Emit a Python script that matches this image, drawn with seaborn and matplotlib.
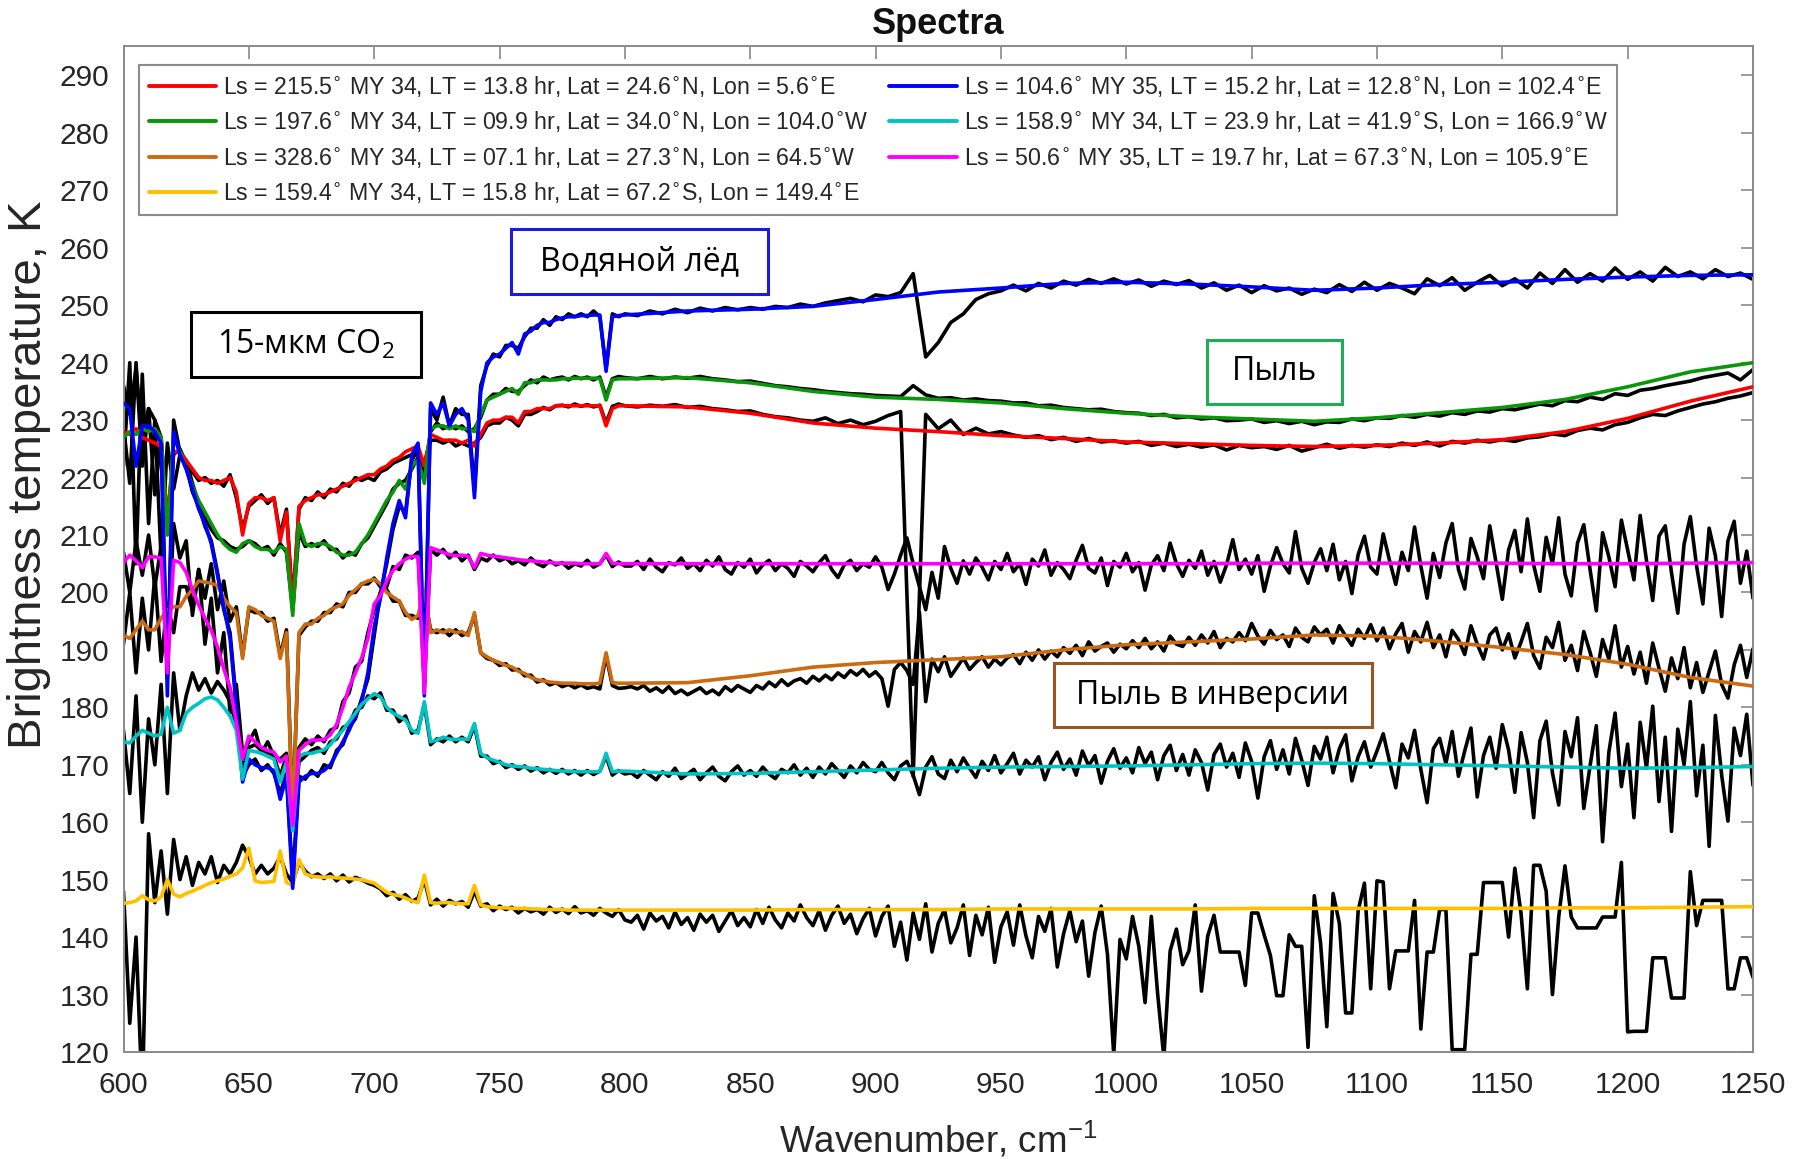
import numpy as np
import matplotlib
matplotlib.use("Agg")
import matplotlib.pyplot as plt
from matplotlib.lines import Line2D
from matplotlib.patches import Rectangle
import seaborn as sns

# ---------------- data ----------------
# wavenumber grids, cm^-1
wn_lo = np.arange(600.0, 800.01, 2.5)         # 81 points
wn_hi_obs = np.arange(805.0, 1250.01, 5.0)    # 90 points (smooth observed spectra)
wn_hi_fine = np.arange(802.5, 1250.01, 2.5)   # 180 points (noisy observed spectra)
wn_hi_fit = np.arange(825.0, 1250.01, 25.0)   # 18 points (model fits)

labels = [
    "Ls = 215.5$^{\\circ}$ MY 34, LT = 13.8 hr, Lat = 24.6$^{\\circ}$N, Lon = 5.6$^{\\circ}$E",
    "Ls = 197.6$^{\\circ}$ MY 34, LT = 09.9 hr, Lat = 34.0$^{\\circ}$N, Lon = 104.0$^{\\circ}$W",
    "Ls = 328.6$^{\\circ}$ MY 34, LT = 07.1 hr, Lat = 27.3$^{\\circ}$N, Lon = 64.5$^{\\circ}$W",
    "Ls = 159.4$^{\\circ}$ MY 34, LT = 15.8 hr, Lat = 67.2$^{\\circ}$S, Lon = 149.4$^{\\circ}$E",
    "Ls = 104.6$^{\\circ}$ MY 35, LT = 15.2 hr, Lat = 12.8$^{\\circ}$N, Lon = 102.4$^{\\circ}$E",
    "Ls = 158.9$^{\\circ}$ MY 34, LT = 23.9 hr, Lat = 41.9$^{\\circ}$S, Lon = 166.9$^{\\circ}$W",
    "Ls = 50.6$^{\\circ}$ MY 35, LT = 19.7 hr, Lat = 67.3$^{\\circ}$N, Lon = 105.9$^{\\circ}$E",
]
colors = ["#ff0000", "#0a960a", "#cc6a10", "#ffc000", "#0000ff", "#00c4c4", "#ff00ff"]

# ---- model fits (colored) ----
fit_red = [
    228, 227.5, 228.5, 227, 226.5, 226, 225.5, 213, 224.5, 224.5,
    223, 221.5, 220, 219.5, 219.5, 219, 219.5, 220, 217.5, 210,
    215.5, 216.5, 216.5, 216, 216.5, 209, 214, 197, 215, 216,
    216.5, 217, 217, 217.5, 218, 218.5, 219, 219.5, 220, 220.5,
    220.5, 221.5, 222, 223, 223.5, 224.5, 225, 225.5, 222, 227.5,
    227, 226.5, 226.5, 226.5, 226, 226.5, 225.5, 227.5, 229.5, 230,
    230, 230.5, 230.5, 229.5, 231.5, 231.5, 232, 232, 232, 232.5,
    232.5, 232.5, 232.5, 232.5, 232.5, 232.5, 232.5, 229, 232, 232.5,
    232.5,
    232.3, 231.2, 229.5, 228.6, 228, 227.3, 226.8, 226.2, 225.9, 225.6,
    225.4, 225.6, 226, 226.6, 228, 230.3, 233.3, 235.8]
fit_green = [
    227, 228, 227.5, 228.5, 228, 228.5, 227, 210, 227, 224.5,
    221.5, 218.5, 216, 214, 212, 210, 208.5, 207.5, 207, 208.5,
    209, 208, 207.5, 207.5, 207, 208, 207.5, 196, 212, 208.5,
    208, 208.5, 208.5, 208, 207, 206.5, 206.5, 207, 208.5, 210,
    212, 214, 216, 217.5, 219.5, 218, 222, 223, 219, 228.5,
    229, 229, 228.5, 229, 228.5, 228.5, 228, 231, 233.5, 234,
    234.5, 235, 235.5, 234.5, 236.5, 236.5, 237, 237, 237, 237,
    237.2, 237.2, 237.3, 237.3, 237.3, 237.3, 237.3, 233.5, 237, 237.2,
    237.2,
    237.4, 236.5, 235, 234, 233.6, 233, 232, 231.2, 230.6, 230.2,
    229.8, 230.4, 231.3, 232.2, 233.6, 235.8, 238.4, 240]
fit_orange = [
    192.5, 192, 193.5, 195, 193.5, 193.5, 195.5, 197, 197.5, 197.5,
    199.3, 200.5, 202, 201.8, 201.6, 201.2, 199, 197.5, 196.5, 188.5,
    197.5, 197, 196, 195.5, 195, 188.5, 193, 160, 193, 194.5,
    194.5, 195.5, 196, 197, 197.5, 198, 199.5, 200.5, 201.5, 202,
    202.3, 201.5, 200, 199.2, 198.5, 196.5, 195.3, 196, 200.4, 193,
    193.5, 193, 193.5, 193, 193.2, 192.5, 196.5, 189.5, 188.8, 188.2,
    187.8, 187.3, 187, 186.3, 185.9, 185.2, 184.8, 184.6, 184.4, 184.3,
    184.2, 184.2, 184.2, 184.1, 184.1, 184.1, 184.2, 189.5, 184.3, 184.2,
    184.2,
    184.3, 185.5, 187, 187.8, 188.3, 188.8, 190, 190.9, 191.4, 191.9,
    192.6, 192.4, 191.5, 190.4, 189.2, 187.5, 185.2, 183.7]
fit_yellow = [
    145.9, 146, 146.3, 147.2, 146.5, 146.3, 147, 150, 147.5, 147,
    147.6, 148, 148.5, 149, 149.5, 149.8, 150.1, 150.6, 151, 152,
    155.5, 149.8, 149.5, 149.6, 149.7, 155, 149.5, 149, 153.5, 151,
    150.6, 150.5, 150.4, 150.5, 150.3, 150.3, 150.2, 150.1, 150, 149.7,
    149.4, 148.6, 147.8, 147.4, 147.2, 146.8, 146.3, 146, 150.8, 146,
    145.9, 146, 146, 145.9, 145.8, 145.8, 149, 145.6, 145.3, 145.2,
    145.1, 145.1, 145, 145, 145, 144.9, 144.9, 144.8, 144.8, 144.8,
    144.8, 144.7, 144.7, 144.7, 144.7, 144.7, 144.7, 144.7, 144.7, 144.7,
    144.7,
    144.7, 144.7, 144.8, 144.8, 144.8, 144.9, 144.9, 144.9, 144.9, 145,
    145, 145, 145, 145, 145.1, 145.1, 145.2, 145.3]
fit_blue = [
    233, 232, 222, 229, 229, 228, 226, 182, 228, 224,
    221.5, 218, 214.5, 212, 208.5, 203, 197.5, 192, 180, 167,
    171, 170, 169.5, 169.5, 169, 164, 168, 148.5, 167, 168,
    168.5, 168.5, 169, 170, 172, 174, 176, 178.5, 181, 186,
    194, 199, 206, 212, 216, 213, 224, 226, 182, 233,
    231, 233, 229, 231, 232, 230, 216.5, 235, 240, 241,
    241.5, 242.5, 243.5, 241.5, 245, 245.5, 246.5, 247, 247, 247.5,
    247.8, 248, 248, 248.2, 248.2, 248.3, 248.3, 238.5, 248, 248.2,
    248.3,
    249, 249.3, 249.8, 251, 252.3, 253, 253.8, 254, 253.7, 253.2,
    252.6, 253, 253.6, 254, 254.5, 254.9, 255.2, 255.3]
fit_cyan = [
    174, 173.8, 175, 176, 175.5, 175, 175.3, 180, 175.5, 176,
    179, 180, 180.7, 181.5, 181.8, 181.3, 180, 178.5, 176, 167.5,
    172.5, 172.3, 172, 171.5, 171, 167, 170.5, 158.5, 171.5, 172,
    172, 172.3, 172.6, 173.5, 174.9, 176, 177.5, 179, 180.5, 181.5,
    182.4, 181.8, 180, 179, 178.4, 177.8, 176, 175.5, 181, 174,
    174.3, 174.8, 174.5, 174.4, 174.5, 174.4, 177.2, 172, 171.2, 170.8,
    170.4, 170, 169.8, 169.7, 169.6, 169.4, 169.3, 169.2, 169.1, 169,
    168.9, 168.9, 168.8, 168.8, 168.8, 168.8, 168.8, 172, 168.8, 168.9,
    168.9,
    168.4, 168.5, 168.8, 169.1, 169.4, 169.6, 169.7, 169.8, 170, 170.2,
    170.3, 170.2, 170, 169.8, 169.6, 169.4, 169.5, 169.7]
fit_magenta = [
    205.2, 206.5, 205.5, 204.3, 206.2, 206.2, 206, 186, 205.6, 205.2,
    203.5, 200.5, 197.8, 195.5, 193.4, 190.5, 186.7, 183.5, 177.5, 171,
    175, 174, 173, 172.5, 172.2, 170.5, 171.5, 159.5, 172.5, 173.5,
    174.3, 174.3, 174.4, 175.2, 177, 180, 183.5, 186, 188.6, 192,
    198, 199.5, 202, 203.8, 205, 205.8, 206.3, 206.2, 182.5, 207.8,
    207.4, 207, 206.6, 206.4, 206.5, 206.3, 204.3, 206.8, 206.5, 206.3,
    206.2, 206, 205.9, 205.7, 205.6, 205.5, 205.4, 205.3, 205.2, 205.1,
    205.1, 205.1, 205.1, 205, 205, 205, 205, 206.8, 205.1, 205,
    205,
    205, 205, 205, 205, 205, 205, 205, 205, 205, 205.1,
    205.1, 205.1, 205.1, 205.1, 205, 205, 205.1, 205.2]

# ---- observed spectra (black) ----
# 81 values on wn_lo followed by 90 values on wn_hi_obs
obs_red = [
    229, 219, 240, 222, 232, 217, 227, 212, 224, 225,
    222.5, 221, 219.5, 220, 219, 219.5, 218.5, 220.5, 216.5, 211,
    215, 216, 217, 215.5, 216.5, 210, 214.5, 198, 214.5, 216.5,
    216, 217.5, 216.5, 218, 217.5, 219, 218.5, 220, 219.5, 220,
    219.5, 221, 221.5, 222.5, 223, 223.5, 224, 224.5, 222.5, 226.5,
    226.5, 226, 226.5, 225.5, 226, 225.5, 226, 227, 229, 229.5,
    229.5, 230.5, 230, 229, 231, 231, 231.5, 232.2, 231.8, 232.5,
    232.6, 232.3, 232.8, 232.4, 232.7, 232.3, 232.6, 229.5, 232.4, 232.8,
    232.5,
    232.3, 232.6, 232.4, 232.7, 232.2, 232.4, 232, 231.8, 231.5, 231.6,
    231, 230.6, 230.4, 230, 229.8, 230.4, 229.4, 230, 229.2, 229.8,
    230.8, 231.5, 168, 231, 228.5, 230, 227.5, 228.6, 227.6, 228,
    227.4, 227, 227.3, 226.6, 227, 226.3, 226.8, 226.2, 226.4, 226,
    226.3, 225.6, 226, 225.4, 225.8, 225.3, 225.7, 224.8, 225.6, 225.2,
    225.4, 224.9, 225.6, 224.6, 225.2, 225.8, 225.1, 225.6, 225.3, 225.7,
    225.4, 226, 225.6, 226.2, 225.5, 226.3, 226, 226.5, 226.2, 226.6,
    226.3, 226.9, 227.1, 227.6, 227.3, 228.2, 228.6, 228.3, 229.2, 229.6,
    230.4, 231, 230.8, 231.6, 232.2, 232.8, 233.2, 233.8, 234.2, 234.8]
obs_green = [
    222, 240, 205, 238, 212, 230, 206, 226, 218, 224,
    223, 219, 215.5, 213, 211, 209.5, 209, 208, 207.5, 208,
    209, 208.5, 207.5, 208, 206.5, 208.5, 207, 197, 210.5, 208,
    208.5, 208, 209, 207.5, 207.5, 206, 207, 206.5, 208.5, 209.5,
    211.5, 213.5, 215.5, 218, 219, 219.5, 221.5, 223.5, 220.5, 228,
    229.5, 228.5, 229, 228.5, 229, 228, 228.5, 230.5, 233.5, 234.5,
    234.5, 235.5, 235, 235, 236, 237, 236.5, 237.5, 237, 237.3,
    237.5, 237, 237.6, 237.2, 237.5, 237, 237.5, 234, 237.2, 237.6,
    237.4,
    237.2, 237.6, 237.2, 237.5, 237.3, 237.6, 237.2, 237, 236.7, 236.8,
    236.4, 236, 235.8, 235.5, 235.3, 235, 234.8, 234.6, 234.5, 234.3,
    234.2, 234.1, 236, 234.4, 233.8, 233.9, 233.5, 233.7, 233.4, 233.3,
    233, 233, 232.5, 232.6, 232.2, 232, 231.8, 231.9, 231.5, 231.3,
    231.2, 230.8, 231, 230.4, 230.6, 230.2, 230.4, 229.9, 230, 230.2,
    229.6, 229.9, 229.4, 229.8, 229.2, 229.7, 229.6, 230.2, 229.9, 230.4,
    230.3, 230.8, 230.5, 231, 230.7, 231.3, 231, 231.6, 231.4, 232,
    231.8, 232.3, 232.8, 232.5, 233.4, 233.2, 234, 233.6, 234.6, 234.3,
    235.2, 235.5, 236, 236.4, 236.8, 237.4, 237.8, 238.2, 237, 238.8]
obs_blue = [
    236, 231, 239, 226, 232, 230, 227, 185, 230, 224.5,
    222, 217.5, 215, 211.5, 209, 203.5, 197, 193, 181, 168,
    170, 171, 169, 170, 168.5, 165, 168.5, 150, 168, 167.5,
    169, 168, 170, 169.5, 172.5, 173.5, 176.5, 178, 181.5, 185,
    192.5, 200, 205, 211, 215, 214, 223, 225, 184, 232,
    230, 234, 229, 232, 231, 231, 218, 236, 239.5, 241.5,
    241, 243, 243, 242.5, 244.5, 246, 246, 247.5, 246.5, 248,
    247.5, 248.5, 248, 248.5, 248, 249, 248, 239, 248.5, 248,
    248.5,
    248.2, 249, 248.5, 249.3, 248.7, 249.5, 249, 249.6, 249.2, 249.6,
    249.3, 249.8, 249.6, 250.2, 249.8, 250.4, 250.8, 251.2, 250.6, 251.8,
    251.5, 252.2, 255.5, 241, 243.5, 247, 248.5, 251, 252, 252.5,
    253.5, 252.5, 253.8, 253, 254.2, 253.5, 254.5, 253.8, 254.6, 253.7,
    254.4, 253.3, 254.2, 253.6, 254.3, 253, 253.9, 252.6, 253.5, 252.2,
    253.4, 252.5, 253, 251.9, 252.8, 252.2, 253.6, 252.4, 254, 252.6,
    253.8, 253, 252, 254.6, 253.4, 254.8, 252.6, 254, 255.2, 253.4,
    254.6, 253, 255.6, 253.8, 256.2, 254, 255.5, 254.2, 256.5, 254.5,
    255.8, 254.2, 256.6, 255, 255.8, 254.6, 256.2, 255, 255.6, 254.5]

# 81 values on wn_lo followed by 180 values on wn_hi_fine
obs_orange = [
    191, 200, 186, 199, 190, 203, 188, 198, 193, 201,
    201, 197, 204, 199, 205, 197, 202, 195, 197.5, 189,
    197, 196.5, 196.5, 195, 195.5, 189, 193.5, 161, 192.5, 194,
    195, 195, 196.5, 196.5, 198, 197.5, 200, 200, 201.5, 201.5,
    202.5, 201, 200.5, 198.5, 198.5, 196, 196, 195.5, 199.5, 193.5,
    193, 193.5, 192.5, 193.5, 192.5, 193, 196, 189.5, 188.5, 188.2,
    187.3, 187.6, 186.5, 186.6, 185.5, 185.6, 184.4, 184.8, 183.9, 184.3,
    183.6, 184, 183.4, 183.9, 183.3, 183.6, 183.2, 189, 183.8, 183.3,
    183.4,
    183.6, 183.2, 183.8, 182.8, 183.4, 182.6, 183.6, 182.4, 183, 182.2,
    182.8, 183.4, 182.4, 183, 182.2, 183.6, 182.8, 183.8, 183.2, 182.6,
    183.8, 183.2, 184.4, 183.6, 184.8, 183.8, 184.6, 185, 184.2, 185.4,
    184.6, 185.6, 184.8, 186, 185.2, 186.4, 185.6, 186.6, 185.4, 186.2,
    185, 180.2, 186.6, 187.8, 186.4, 184, 196.5, 181, 188.4, 186.2,
    188.8, 185.4, 187, 188.6, 186.6, 187.8, 188.8, 187, 188.4, 187.4,
    188.6, 189.2, 187.6, 189.6, 188.2, 190, 188.4, 189.8, 188.8, 190.4,
    189.4, 190.8, 189, 191.4, 189.8, 190.6, 191.2, 189.6, 191, 190.2,
    191.6, 190.4, 192, 190.2, 191.4, 189.8, 192.4, 191, 190.6, 192.2,
    190.8, 192.6, 191.2, 193.2, 190.4, 192, 191.4, 193, 191.6, 194.6,
    192.4, 191, 193.4, 191.8, 192.6, 190.6, 193.8, 192.2, 191.4, 194,
    192.6, 193.6, 191.2, 194.2, 192.4, 190.8, 193.6, 192, 194.4, 191.6,
    193.8, 190.2, 192.8, 194.6, 189.6, 193.2, 191.4, 194.8, 190.4, 192.6,
    188.8, 193.4, 191.8, 189.2, 194.2, 191, 188.4, 192.6, 193.8, 190,
    192.8, 188.6, 191.4, 194.6, 189, 186.8, 192.2, 190.4, 194.8, 188.2,
    190.8, 186.4, 193.2, 189.6, 185.4, 191.8, 188.4, 194.2, 187, 190.6,
    185.8, 189.6, 184.2, 191.2, 186.8, 182.8, 188.6, 185, 190.4, 183.4,
    187.8, 182.6, 186.2, 189.8, 184, 181.6, 187.4, 190.8, 185.2, 190.2]
obs_yellow = [
    148, 125, 140, 112, 158, 146, 155, 144, 157, 150,
    154, 149, 153, 151, 154, 149.5, 152.5, 151, 153, 156,
    154, 151, 152.5, 151, 152, 154, 151, 149.5, 153, 151.5,
    150.5, 151, 150.2, 151, 149.8, 150.8, 149.6, 150.4, 150, 149.4,
    149, 148.4, 147.2, 147.8, 146.6, 147.4, 146.2, 146.8, 150, 145.6,
    146.6, 145.4, 146.4, 145.8, 146.2, 145.2, 148, 145.4, 145.8, 144.6,
    145.4, 144.8, 145.2, 144.2, 145, 144.4, 144.8, 144, 145.2, 144.3,
    144.9, 144.1, 145.3, 144.2, 144.6, 143.8, 145, 144.2, 143.6, 144.8,
    143,
    142.6, 143.8, 141.4, 144.2, 142.8, 143.6, 141.6, 144.4, 142.2, 143.4,
    141.2, 144, 142.6, 143.8, 141, 142.8, 144.6, 142, 143.4, 141.8,
    144.8, 142.4, 145.2, 143, 141.6, 144.2, 142.8, 145.6, 143.4, 142,
    144.6, 141.2, 143.8, 145.4, 142.4, 144, 140.6, 143.2, 145, 140.2,
    143.6, 145.4, 138.4, 142.6, 136, 144.2, 139.6, 145.8, 137.4, 142.4,
    144.8, 139, 141.6, 145.6, 136.8, 143.8, 140.4, 145.2, 135.6, 141.8,
    144.4, 138.6, 145.6, 140.2, 136.4, 143.6, 141, 145, 134.8, 140.6,
    144.6, 139.2, 142.8, 133.2, 140.8, 145.4, 137, 119.5, 139.6, 136.2,
    143.6, 138.4, 128.6, 143.6, 130.2, 119, 137.6, 141.4, 135.2, 137.6,
    145.6, 130.6, 140.2, 143.8, 137.4, 137.4, 137.4, 137.4, 131.6, 144.2,
    144.2, 140.4, 136.8, 129.8, 129.8, 140.4, 138.4, 138.4, 120.8, 147.2,
    139, 124.4, 147.6, 142.4, 126.8, 126.8, 144.6, 149.4, 131, 149.8,
    149.6, 131, 137.6, 137.6, 137.6, 146.4, 124, 137.4, 137.4, 144.8,
    144.8, 120.4, 120.4, 120.4, 137, 137, 149.5, 149.5, 149.5, 149.5,
    140, 152, 144, 131, 152.5, 152.5, 148, 130, 143.5, 152.4,
    143.5, 141.6, 141.6, 141.6, 141.6, 143.5, 143.5, 143.5, 153, 123.5,
    123.6, 123.6, 123.6, 136.4, 136.4, 136.4, 129.4, 129.4, 129.4, 151.4,
    142, 146.4, 146.4, 146.4, 146.4, 131, 131, 136.4, 136.4, 133]
obs_cyan = [
    176, 165, 182, 160, 178, 170, 184, 165, 186, 176,
    182, 186, 183, 185, 182.5, 184.5, 183, 181, 177, 169,
    173, 173.5, 172.5, 172, 171.5, 168, 171.5, 159, 170.5, 171.5,
    172.5, 173, 172, 174, 174.5, 176.5, 177, 179.5, 180, 182,
    181.5, 182.5, 179.5, 179.5, 177.5, 178.5, 175.5, 176, 180.5, 173.5,
    174.5, 174, 175, 174, 174.8, 174, 176.8, 171.5, 171.5, 170.2,
    170.6, 169.5, 170, 169.2, 169.8, 168.9, 169.5, 168.6, 169.2, 168.5,
    169.2, 168.4, 169, 168.2, 169, 168.3, 168.9, 171.5, 168.2, 169,
    168.4,
    168.6, 167.8, 169, 168.2, 167.4, 168.8, 168, 169.4, 167.6, 168.4,
    169.2, 167.4, 168.6, 169.6, 168, 167.2, 168.8, 169.8, 168.2, 169,
    168, 169.6, 168.4, 167.6, 169.2, 168.6, 170, 168.2, 169.4, 167.8,
    169.6, 168.4, 170.2, 169, 167.8, 169.8, 168.6, 170.4, 169.2, 168.8,
    170.4, 168.6, 167.4, 169.8, 170.6, 168.2, 164.8, 169.6, 171.4, 168.4,
    167.6, 170.8, 168.8, 171.2, 169.4, 167.8, 170.6, 169, 171.6, 168.6,
    170.2, 172, 168.4, 170.8, 169.6, 171.4, 167.4, 170.4, 172.2, 169.2,
    171, 168.2, 172.4, 169.8, 171.6, 166.8, 170.6, 172.8, 169.4, 171.2,
    168.6, 173, 170.2, 172.2, 167.4, 171.6, 173.4, 169, 171.8, 168.2,
    172.6, 170.4, 165.6, 171.8, 173.6, 169.6, 172, 167.8, 173.8, 170.6,
    164.2, 171.4, 174.2, 169.2, 172.6, 168.4, 174.6, 170.8, 166.4, 173.2,
    171, 174.8, 168.6, 172.8, 175.2, 167.2, 171.4, 174, 169.6, 172.4,
    175.4, 170.6, 166, 173.6, 171.2, 176, 169.2, 163.4, 172.8, 174.6,
    170.2, 175.8, 168, 172.4, 176.4, 164.4, 171.6, 174.8, 169.4, 177,
    172.6, 165.2, 175.6, 170.4, 160.8, 174.2, 177.6, 168.6, 163, 175.8,
    171.4, 178.2, 162.4, 169.8, 176.8, 156.6, 172.2, 179, 166.2, 173.6,
    160.8, 177.4, 169.4, 180.2, 163.6, 174.8, 158.4, 176.2, 170, 181,
    164.6, 173.4, 155.8, 178.6, 168.2, 160.2, 176.4, 171.6, 178.8, 166.4]
obs_magenta = [
    207, 200, 209, 203, 210, 201, 208, 189, 212, 206,
    209, 196, 204, 191, 199, 186, 193, 179, 184, 172,
    174, 176, 172, 174, 171.5, 171, 172, 161, 173, 174.5,
    173.5, 175, 174, 176, 176.5, 181, 182.5, 187, 188, 193,
    197, 200, 201, 204.5, 204, 206.5, 206, 207, 184, 207.5,
    206.5, 207.5, 206, 207, 205.5, 206.5, 204, 206, 205.5, 206.5,
    205.5, 206, 205, 205.5, 204.8, 206, 205, 204.5, 205.5, 204.8,
    205.2, 204.2, 205, 204.6, 205.6, 204.4, 205, 206.5, 204.5, 205.3,
    204.6,
    204.6, 205.4, 204, 205.8, 204.4, 203.6, 205.2, 204.8, 206, 204.2,
    205, 203.8, 205.6, 204.6, 206.2, 204, 203.2, 205.2, 204.4, 205.8,
    203.4, 204.8, 205.6, 203.8, 205, 204.2, 202.8, 205.4, 204.6, 203.6,
    205.2, 206.4, 204, 202.6, 204.8, 205.6, 203.8, 205, 204.4, 206.2,
    204.4, 200.5, 203.2, 206.5, 209.5, 205, 201, 197, 203.5, 199,
    208, 204.2, 201.6, 205.5, 203.2, 206, 204.4, 202.2, 205.4, 204,
    206.8, 203.6, 205, 201.4, 205.8, 204.6, 207.4, 203, 205.2, 204,
    202.4, 205.6, 208.2, 204.2, 203.4, 206, 201.2, 205.4, 204.4, 206.8,
    203.6, 205.2, 200.4, 204.8, 206.4, 203.8, 208.6, 205, 202.8, 205.6,
    204.2, 207.2, 203, 205.4, 201.8, 204.8, 209.2, 204, 205.8, 203.2,
    206.4, 200.2, 204.6, 207.8, 205, 203.4, 210.6, 204.2, 201.6, 205.2,
    207.6, 203.8, 208.4, 202.2, 205.4, 199.8, 206.6, 209.8, 204.4, 203.2,
    210.2, 205.6, 201.4, 207, 203.8, 211.4, 204.6, 199, 206.8, 202.6,
    208.6, 212, 204, 200.6, 209.4, 206.2, 202.4, 211.6, 205.2, 198.8,
    207.4, 210.8, 203.6, 212.8, 204.8, 200.2, 209.6, 205, 213, 203.2,
    199.4, 208.6, 211.8, 204, 196.8, 210.4, 206.2, 201, 212.6, 207.4,
    202.2, 213.4, 205.6, 198.6, 209.8, 211.6, 203.4, 196.4, 208.4, 213.2,
    204.6, 198, 211.2, 206.4, 195.8, 209, 212.4, 201.6, 207.2, 199]

# ---------------- figure ----------------
W, H = 1793, 1159
sns.set_theme(style="white")
plt.rcParams["font.family"] = ["Liberation Sans", "DejaVu Sans"]
plt.rcParams["mathtext.fontset"] = "dejavusans"

fig = plt.figure(figsize=(W / 100, H / 100), dpi=100)
ax_l, ax_r, ax_t, ax_b = 123.5, 1753, 45.6, 1052
ax = fig.add_axes([ax_l / W, 1 - ax_b / H, (ax_r - ax_l) / W, (ax_b - ax_t) / H])

wn_obs = np.concatenate([wn_lo, wn_hi_obs])
wn_obs_fine = np.concatenate([wn_lo, wn_hi_fine])
wn_fit = np.concatenate([wn_lo, wn_hi_fit])

obs_series = [(wn_obs, obs_red), (wn_obs, obs_green), (wn_obs_fine, obs_orange),
              (wn_obs_fine, obs_yellow), (wn_obs, obs_blue), (wn_obs_fine, obs_cyan),
              (wn_obs_fine, obs_magenta)]
fit_all = [fit_red, fit_green, fit_orange, fit_yellow, fit_blue, fit_cyan, fit_magenta]
for xx, o in obs_series:
    assert len(o) == len(xx), (len(o), len(xx))
for f in fit_all:
    assert len(f) == len(wn_fit), len(f)

LW = 2.6
for xx, o in obs_series:
    sns.lineplot(x=xx, y=np.asarray(o, float), ax=ax, color="black",
                 linewidth=LW, estimator=None, sort=False, legend=False, zorder=2)
for f, c in zip(fit_all, colors):
    sns.lineplot(x=wn_fit, y=np.asarray(f, float), ax=ax, color=c,
                 linewidth=LW, estimator=None, sort=False, legend=False, zorder=3)

ax.set_xlim(600, 1250)
ax.set_ylim(120, 295.2)
ax.set_xticks(np.arange(600, 1251, 50))
ax.set_yticks(np.arange(120, 291, 10))
ax.tick_params(axis="both", direction="in", length=9, width=1.2, color="#8a8a8a",
               labelcolor="#262626", labelsize=21.5, top=True, right=True)
ax.tick_params(axis="x", pad=14)
ax.tick_params(axis="y", pad=10)
for sp in ax.spines.values():
    sp.set_color("#8a8a8a")
    sp.set_linewidth(1.4)
ax.set_xlabel("")
ax.set_ylabel("")

# legend
handles = [Line2D([], [], color=c, lw=2.8) for c in colors]
leg = ax.legend(handles, labels, ncol=2, loc="upper left",
                bbox_to_anchor=(0.0098, 0.981), borderaxespad=0,
                prop={"family": "Liberation Sans", "size": 16.7},
                handlelength=2.9, handletextpad=0.3, columnspacing=0.9,
                labelspacing=0.45, borderpad=0.4, frameon=True, fancybox=False,
                edgecolor="#8c8c8c", framealpha=1)
leg.get_frame().set_linewidth(1.5)
leg.set_zorder(20)

# titles / labels
fig.text(938 / W, 1 - 25 / H, "Spectra", ha="center", va="center",
         fontsize=26, fontweight="bold", color="#111111")
fig.text(938 / W, 1 - 1140 / H, "Wavenumber, cm$^{\\mathregular{-1}}$", ha="center",
         va="center", fontsize=26.5, color="#262626")
fig.text(29 / W, 1 - 475 / H, "Brightness temperature, K", ha="center", va="center",
         rotation=90, fontsize=34, color="#262626")

# annotation boxes
def fig_box(x0, y0, x1, y1, text, ec, fs):
    rect = Rectangle((x0 / W, 1 - y1 / H), (x1 - x0) / W, (y1 - y0) / H,
                     transform=fig.transFigure, facecolor="white", edgecolor=ec,
                     linewidth=2.2, zorder=30)
    fig.add_artist(rect)
    fig.text((x0 + x1) / 2 / W, 1 - (y0 + y1) / 2 / H, text, ha="center", va="center",
             fontsize=fs, family="Open Sans", color="black", zorder=31)

fig_box(191, 312, 421, 377, "15-мкм CO$_{\\mathregular{2}}$", "black", 23)
fig_box(511, 229, 768, 294, "Водяной лёд", "#1a1ae0", 23)
fig_box(1207, 340, 1342, 404, "Пыль", "#1fae55", 23)
fig_box(1054, 663, 1372, 727, "Пыль в инверсии", "#9b5520", 23)

fig.savefig("out.png", dpi=100)
